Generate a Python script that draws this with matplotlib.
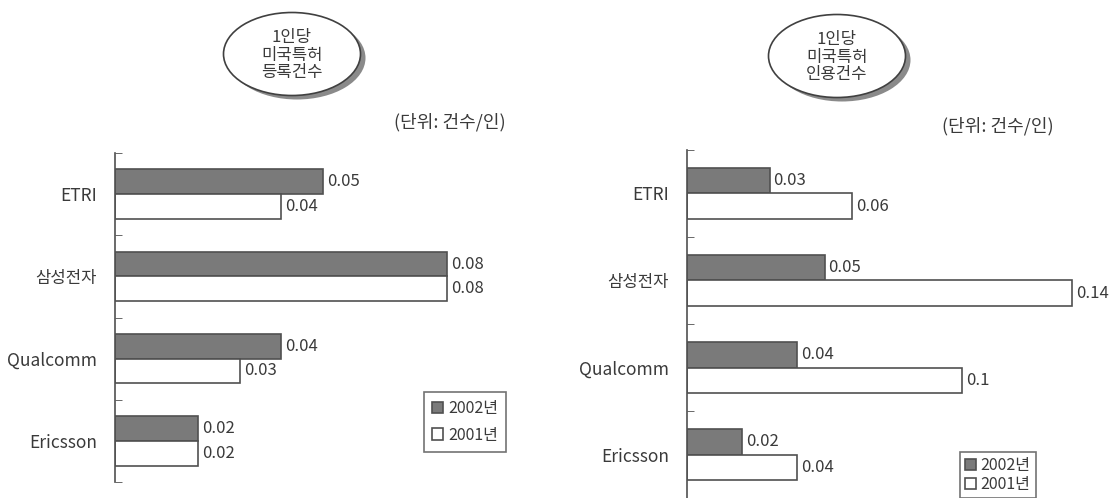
import numpy as np
import matplotlib.pyplot as plt
from matplotlib.patches import Ellipse

plt.rcParams['font.family'] = ['Noto Sans CJK KR', 'DejaVu Sans']

companies = ['ETRI', '삼성전자', 'Qualcomm', 'Ericsson']
years = ['2002년', '2001년']

# 1인당 미국특허 등록건수
reg_2002 = [0.05, 0.08, 0.04, 0.02]
reg_2001 = [0.04, 0.08, 0.03, 0.02]
reg_lbl_2002 = ['0.05', '0.08', '0.04', '0.02']
reg_lbl_2001 = ['0.04', '0.08', '0.03', '0.02']

# 1인당 미국특허 인용건수
cit_2002 = [0.03, 0.05, 0.04, 0.02]
cit_2001 = [0.06, 0.14, 0.10, 0.04]
cit_lbl_2002 = ['0.03', '0.05', '0.04', '0.02']
cit_lbl_2001 = ['0.06', '0.14', '0.1', '0.04']

W, H = 1111, 498
fig = plt.figure(figsize=(W / 100, H / 100), dpi=100)

dark = '#7a7a7a'
edge = '#505050'
txt = '#3a3a3a'


def px(x0, y0, x1, y1):
    # pixel box -> figure fraction rect
    return [x0 / W, 1 - y1 / H, (x1 - x0) / W, (y1 - y0) / H]


def panel(rect, xmax, v02, v01, l02, l01, bh):
    ax = fig.add_axes(rect)
    y = np.arange(len(companies))
    b1 = ax.barh(y - bh / 2, v02, height=bh, color=dark, edgecolor=edge, linewidth=1.2)
    b2 = ax.barh(y + bh / 2, v01, height=bh, color='white', edgecolor=edge, linewidth=1.2)
    for bars, labels in ((b1, l02), (b2, l01)):
        for b, s in zip(bars, labels):
            ax.text(b.get_width() + xmax * 0.01, b.get_y() + b.get_height() / 2, s,
                    va='center', ha='left', fontsize=12, color=txt)
    ax.set_xlim(0, xmax)
    ax.set_ylim(len(companies) - 0.5, -0.5)
    ax.set_yticks(y)
    ax.set_yticklabels(companies, fontsize=12.5, color=txt)
    for lbl in ax.get_yticklabels():
        if any(ord(c) > 0x1100 for c in lbl.get_text()):
            lbl.set_fontsize(12)
    ax.set_yticks(np.arange(len(companies) + 1) - 0.5, minor=True)
    ax.tick_params(axis='y', which='major', length=0, pad=13)
    ax.tick_params(axis='y', which='minor', direction='in', length=5, color=edge)
    ax.set_xticks([])
    for s in ('top', 'right', 'bottom'):
        ax.spines[s].set_visible(False)
    ax.spines['left'].set_color(edge)
    ax.spines['left'].set_linewidth(1.2)
    ax.patch.set_alpha(0)
    return ax, b1, b2


ax1, a1, a2 = panel(px(115, 153, 545, 482), 430 / 4150, reg_2002, reg_2001,
                    reg_lbl_2002, reg_lbl_2001, 0.3)
ax2, c1, c2 = panel(px(687, 150, 1090, 498), 0.1465, cit_2002, cit_2001,
                    cit_lbl_2002, cit_lbl_2001, 0.29)

leg_kw = dict(frameon=True, fancybox=False, edgecolor=edge, fontsize=11.5,
              handlelength=0.7, handleheight=0.7, handletextpad=0.3,
              labelcolor=txt, borderaxespad=0)
lg1 = ax1.legend([a1, a2], years, loc='upper left',
                 bbox_to_anchor=(424 / W, 1 - 392 / H), bbox_transform=fig.transFigure,
                 labelspacing=0.6, borderpad=0.5, **leg_kw)
lg1.get_frame().set_linewidth(1.2)
lg2 = ax2.legend([c1, c2], years, loc='upper left',
                 bbox_to_anchor=(960 / W, 1 - 452 / H), bbox_transform=fig.transFigure,
                 labelspacing=0.15, borderpad=0.3, **leg_kw)
lg2.get_frame().set_linewidth(1.2)

# decorations: ellipse titles and unit notes, in pixel coords
deco = fig.add_axes([0, 0, 1, 1], zorder=-1)
deco.set_xlim(0, W)
deco.set_ylim(H, 0)
deco.axis('off')

titles = [('1인당\n미국특허\n등록건수', 292, 54), ('1인당\n미국특허\n인용건수', 837, 56)]
for t, cx, cy in titles:
    deco.add_patch(Ellipse((cx + 5, cy + 4), 137, 83, facecolor='#8a8a8a', edgecolor='none'))
    deco.add_patch(Ellipse((cx, cy), 137, 83, facecolor='white', edgecolor='#404040', lw=1.2))
    deco.text(cx, cy + 1, t, ha='center', va='center', fontsize=12, color=txt, linespacing=1.05)

deco.text(450, 122, '(단위: 건수/인)', ha='center', va='center', fontsize=13, color=txt)
deco.text(998, 126, '(단위: 건수/인)', ha='center', va='center', fontsize=13, color=txt)

fig.savefig('out.png', dpi=100)
